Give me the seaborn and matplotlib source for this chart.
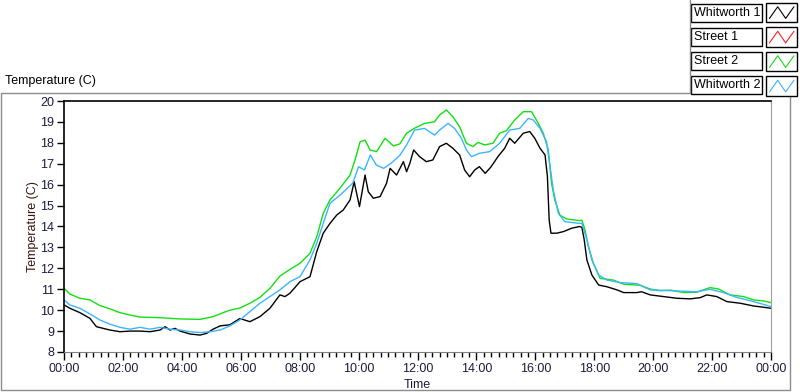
import numpy as np
import pandas as pd
import seaborn as sns
import matplotlib.pyplot as plt
from matplotlib.lines import Line2D
from matplotlib.patches import Rectangle
from matplotlib.legend_handler import HandlerBase


series_names = ["Whitworth 1", "Street 1", "Street 2", "Whitworth 2"]
series_colors = ["#000000", "#ff2020", "#11e011", "#3cb4ff"]

# hours since midnight / temperature (C)
w1_hours = [0.0, 0.2, 0.54, 0.88, 1.1, 1.56, 1.9, 2.24, 2.58, 2.92, 3.26, 3.43, 3.6, 3.77,
            3.94, 4.28, 4.62, 4.84, 5.06, 5.3, 5.63, 5.97, 6.31, 6.65, 6.99, 7.33, 7.5,
            7.67, 8.01, 8.35, 8.58, 8.8, 9.03, 9.26, 9.48, 9.71, 9.85, 10.03, 10.22,
            10.33, 10.5, 10.73, 10.95, 11.07, 11.29, 11.52, 11.63, 11.74, 11.87, 12.07,
            12.3, 12.52, 12.75, 12.98, 13.2, 13.43, 13.6, 13.77, 13.94, 14.1, 14.3, 14.5,
            14.73, 14.96, 15.13, 15.3, 15.59, 15.81, 15.98, 16.16, 16.33, 16.41, 16.47,
            16.53, 16.73, 16.96, 17.24, 17.5, 17.58, 17.66, 17.75, 17.92, 18.15, 18.43,
            18.77, 19.0, 19.44, 19.61, 19.9, 20.35, 20.8, 21.26, 21.6, 21.82, 22.16,
            22.5, 22.96, 23.41, 23.75, 24.0]
w1_temp = [10.25, 10.09, 9.88, 9.61, 9.21, 9.05, 8.97, 9.0, 9.0, 8.97, 9.05, 9.21, 9.05, 9.13,
           9.0, 8.86, 8.81, 8.89, 9.09, 9.25, 9.3, 9.6, 9.45, 9.69, 10.09, 10.73, 10.65,
           10.81, 11.36, 11.6, 12.8, 13.68, 14.15, 14.55, 14.79, 15.27, 16.14, 14.95, 16.46,
           15.66, 15.35, 15.43, 16.07, 16.78, 16.46, 17.1, 16.62, 17.02, 17.66, 17.34,
           17.1, 17.18, 17.82, 17.98, 17.74, 17.42, 16.7, 16.38, 16.7, 16.86, 16.54, 16.86,
           17.34, 17.74, 18.22, 17.98, 18.46, 18.54, 18.22, 17.74, 17.42, 16.38, 14.31,
           13.68, 13.68, 13.76, 13.92, 14.0, 13.96, 13.36, 12.4, 11.68, 11.2, 11.12,
           10.97, 10.84, 10.84, 10.88, 10.73, 10.65, 10.57, 10.54, 10.6, 10.73, 10.65,
           10.41, 10.33, 10.2, 10.14, 10.09]

s1_hours = []
s1_temp = []

s2_hours = [0.0, 0.2, 0.54, 0.88, 1.22, 1.56, 1.9, 2.24, 2.58, 3.26, 3.94, 4.62, 5.06, 5.4,
            5.63, 5.97, 6.31, 6.65, 6.99, 7.33, 7.67, 8.01, 8.35, 8.58, 8.8, 9.03, 9.37,
            9.71, 9.88, 10.05, 10.22, 10.39, 10.61, 10.9, 11.18, 11.4, 11.63, 11.9, 12.24,
            12.58, 12.75, 12.98, 13.2, 13.43, 13.66, 13.88, 14.05, 14.28, 14.56, 14.79,
            15.02, 15.3, 15.59, 15.87, 16.1, 16.27, 16.44, 16.55, 16.66, 16.83, 17.06,
            17.5, 17.58, 17.69, 17.8, 17.97, 18.2, 18.65, 19.0, 19.56, 19.9, 20.24, 20.58,
            21.03, 21.48, 21.93, 22.22, 22.61, 23.07, 23.41, 23.75, 24.0]
s2_temp = [11.05, 10.77, 10.57, 10.49, 10.22, 10.06, 9.88, 9.77, 9.67, 9.64, 9.58, 9.56, 9.69, 9.88,
           10.0, 10.1, 10.33, 10.61, 11.04, 11.63, 11.95, 12.24, 12.72, 13.51, 14.63, 15.27, 15.83,
           16.46, 17.18, 18.05, 18.13, 17.66, 17.58, 18.22, 17.85, 17.95, 18.46, 18.7, 18.93,
           19.01, 19.33, 19.57, 19.25, 18.77, 17.98, 17.82, 18.02, 17.9, 17.98, 18.46,
           18.58, 19.09, 19.49, 19.49, 18.93, 18.46, 17.66, 16.07, 15.27, 14.55, 14.36,
           14.28, 14.3, 13.83, 13.04, 12.24, 11.52, 11.44, 11.24, 11.19, 11.01, 10.93, 10.96,
           10.84, 10.86, 11.08, 11.01, 10.73, 10.65, 10.49, 10.44, 10.36]

w2_hours = [0.0, 0.2, 0.54, 0.88, 1.22, 1.56, 1.9, 2.24, 2.58, 2.92, 3.26, 3.6, 3.94, 4.28,
            4.62, 4.96, 5.3, 5.63, 5.97, 6.31, 6.65, 6.99, 7.33, 7.67, 8.01, 8.35, 8.58,
            8.8, 9.03, 9.37, 9.8, 10.0, 10.2, 10.4, 10.6, 10.85, 11.1, 11.4, 11.63, 11.9,
            12.24, 12.58, 12.75, 13.04, 13.26, 13.49, 13.66, 13.83, 14.1, 14.45, 14.79,
            15.13, 15.47, 15.76, 15.93, 16.16, 16.38, 16.5, 16.61, 16.78, 17.0, 17.5,
            17.58, 17.75, 17.92, 18.15, 18.43, 18.88, 19.44, 19.9, 20.58, 21.48, 21.93,
            22.39, 22.84, 23.41, 24.0]
w2_temp = [10.49, 10.25, 10.09, 9.82, 9.53, 9.33, 9.18, 9.09, 9.18, 9.09, 9.18, 9.09, 9.05, 8.97,
           8.93, 8.97, 9.05, 9.25, 9.53, 9.93, 10.33, 10.65, 10.97, 11.36, 11.6, 12.4, 13.2,
           14.15, 15.11, 15.5, 16.07, 16.86, 16.7, 17.42, 16.94, 16.78, 17.02, 17.4, 17.9, 18.61,
           18.69, 18.37, 18.61, 18.93, 18.69, 18.22, 17.66, 17.34, 17.5, 17.58, 17.98,
           18.61, 18.69, 19.17, 19.09, 18.69, 18.05, 16.86, 15.75, 14.63, 14.23, 14.15,
           14.15, 13.36, 12.4, 11.68, 11.44, 11.32, 11.27, 10.97, 10.93, 10.88, 11.0,
           10.84, 10.61, 10.41, 10.17]

x_ticks = list(range(0, 25, 2))
x_ticklabels = ["%02d:00" % (h % 24) for h in x_ticks]
y_ticks = list(range(8, 21))


frames = []
for name, hrs, tmp in [("Whitworth 1", w1_hours, w1_temp), ("Street 1", s1_hours, s1_temp),
                       ("Street 2", s2_hours, s2_temp), ("Whitworth 2", w2_hours, w2_temp)]:
    frames.append(pd.DataFrame({"hours": hrs, "temp": tmp, "sensor": name}))
df = pd.concat(frames, ignore_index=True)
df["hours"] = df["hours"].astype(float)
df["temp"] = df["temp"].astype(float)

sns.set_style("white")
plt.rcParams["font.family"] = ["Liberation Sans", "DejaVu Sans"]

W, H = 800, 392
fig = plt.figure(figsize=(8, 3.92), dpi=100)
ax = fig.add_axes([64 / W, 1 - 352 / H, 707 / W, 251 / H])

palette = dict(zip(series_names, series_colors))
present = [n for n in series_names if (df["sensor"] == n).any()]
sns.lineplot(data=df, x="hours", y="temp", hue="sensor", hue_order=present,
             palette=palette, estimator=None, sort=False, legend=False,
             linewidth=1.0, ax=ax)

ax.set_xlim(0, 24)
ax.set_ylim(8, 20)
ax.set_xticks(x_ticks)
ax.set_xticklabels(x_ticklabels)
ax.set_xticks(np.arange(0, 24.01, 0.25), minor=True)
ax.set_yticks(y_ticks)
ax.tick_params(axis="x", which="major", direction="out", length=6, width=1,
               color="black", labelsize=9, labelcolor="#1c1c3c", pad=2, bottom=True)
ax.tick_params(axis="x", which="minor", direction="out", length=3.5, width=1,
               color="black", bottom=True)
ax.tick_params(axis="y", which="major", direction="out", length=5, width=1,
               color="black", labelsize=9, labelcolor="#1c1c3c", pad=2, left=True)
ax.set_xlabel("Time", fontsize=9, color="#1c1c3c", labelpad=3)
ax.set_ylabel("Temperature (C)", fontsize=9, color="#3a1414", labelpad=1)
ax.grid(False)
for side in ["left", "top"]:
    ax.spines[side].set_color("black")
    ax.spines[side].set_linewidth(1.2)
ax.spines["bottom"].set_color("#808080")
ax.spines["right"].set_color("#a0a0a0")

# outer panel frame (open at the top right where the legend sits)
frame_x = np.array([690, 690, 1, 1, 790, 790]) / W
frame_y = 1 - np.array([0, 93, 93, 390, 390, 96]) / H
fig.add_artist(Line2D(frame_x, frame_y, transform=fig.transFigure, color="#8c8c8c", linewidth=1.0))
fig.text(5 / W, 1 - 81 / H, "Temperature (C)", fontsize=9, color="black",
         ha="left", va="center")

# label boxes of the legend, names left aligned inside
for i, name in enumerate(series_names):
    top = 4 + 24 * i
    fig.patches.append(Rectangle((691 / W, 1 - (top + 18) / H), 71 / W, 18 / H,
                                 transform=fig.transFigure, facecolor="white",
                                 edgecolor="black", linewidth=1.0, zorder=0))
    fig.text(694 / W, 1 - (top + 9.5) / H, name, fontsize=9, color="black",
             ha="left", va="center")


class ZigzagHandler(HandlerBase):
    def create_artists(self, legend, orig_handle, xdescent, ydescent, width, height,
                       fontsize, trans):
        x0, y0 = -xdescent, -ydescent
        box = Rectangle((x0, y0 - 3), width, height + 6, facecolor="white",
                        edgecolor="black", linewidth=1.0, transform=trans)
        xs = x0 + width * np.array([0.1, 0.37, 0.63, 0.9])
        ys = y0 - 1.5 + (height + 3) * np.array([0.12, 0.88, 0.12, 0.88])
        zig = Line2D(xs, ys, color=orig_handle.get_color(), linewidth=0.8, transform=trans)
        return [box, zig]


# legend only supplies the swatches; its own texts are hidden
handles = [Line2D([], [], color=c) for c in series_colors]
leg = fig.legend(handles, series_names, loc="upper right",
                 bbox_to_anchor=(797 / W, 1 - 7 / H),
                 frameon=False, markerfirst=False, fontsize=9, handlelength=2.45,
                 handleheight=1.0, handletextpad=0.45, labelspacing=0.93, borderpad=0,
                 borderaxespad=0, handler_map={Line2D: ZigzagHandler()})
for t in leg.get_texts():
    t.set_visible(False)

fig.savefig("out.png", dpi=100)
